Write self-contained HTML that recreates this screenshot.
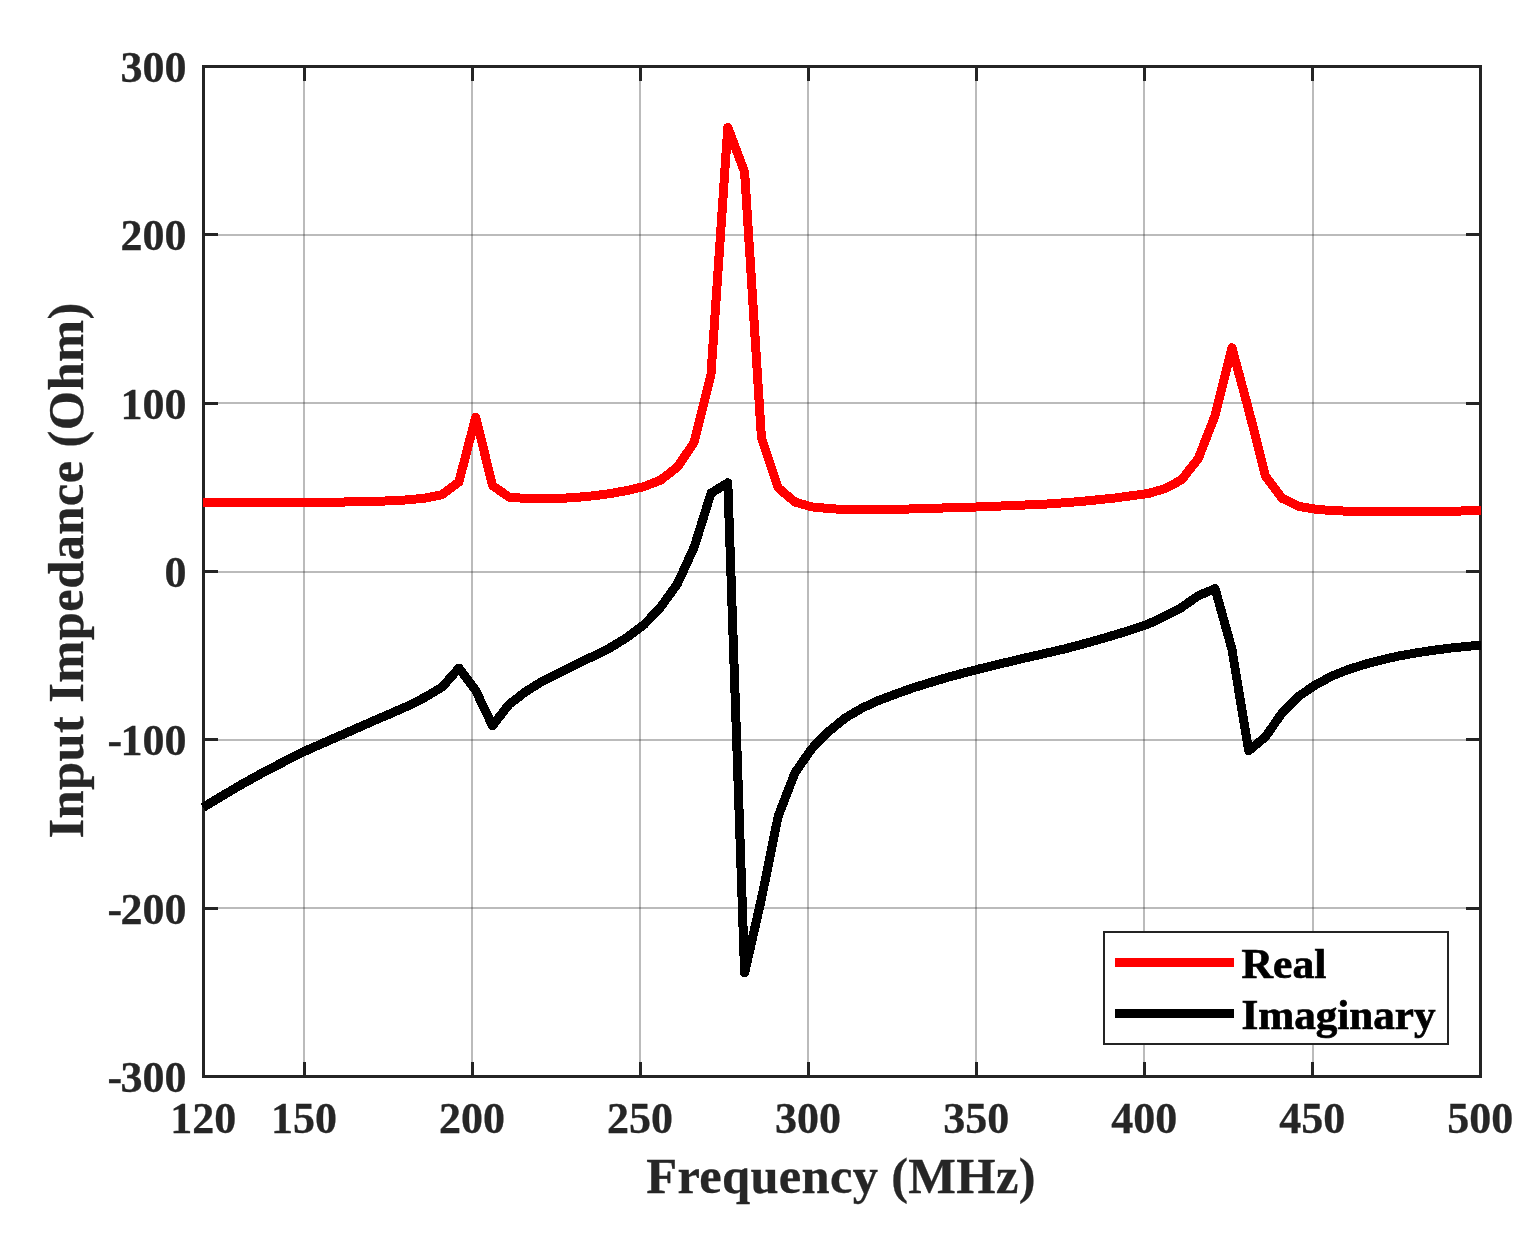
<!DOCTYPE html>
<html lang="en"><head><meta charset="utf-8"><title>Input Impedance vs Frequency</title>
<style>html,body{margin:0;padding:0;background:#fff}body{width:1535px;height:1252px;overflow:hidden}svg{display:block}text{font-family:"Liberation Serif","DejaVu Serif",serif;font-weight:bold}</style></head><body>
<svg width="1535" height="1252" viewBox="0 0 1535 1252" role="img" aria-label="Input impedance versus frequency">
<rect x="0" y="0" width="1535" height="1252" fill="#ffffff"/>
<g fill="#262626" fill-opacity="0.315" shape-rendering="crispEdges">
<rect x="303" y="68" width="2" height="1007"/>
<rect x="471" y="68" width="2" height="1007"/>
<rect x="639" y="68" width="2" height="1007"/>
<rect x="807" y="68" width="2" height="1007"/>
<rect x="975" y="68" width="2" height="1007"/>
<rect x="1143" y="68" width="2" height="1007"/>
<rect x="1312" y="68" width="2" height="1007"/>
<rect x="205" y="907" width="1274" height="2"/>
<rect x="205" y="739" width="1274" height="2"/>
<rect x="205" y="571" width="1274" height="2"/>
<rect x="205" y="402" width="1274" height="2"/>
<rect x="205" y="234" width="1274" height="2"/>
</g>
<g fill="#242424" shape-rendering="crispEdges">
<rect x="202" y="65" width="1280" height="3"/>
<rect x="202" y="1075" width="1280" height="3"/>
<rect x="202" y="65" width="3" height="1013"/>
<rect x="1479" y="65" width="3" height="1013"/>
<rect x="303" y="65" width="3" height="16"/>
<rect x="303" y="1062" width="3" height="16"/>
<rect x="471" y="65" width="3" height="16"/>
<rect x="471" y="1062" width="3" height="16"/>
<rect x="639" y="65" width="3" height="16"/>
<rect x="639" y="1062" width="3" height="16"/>
<rect x="807" y="65" width="3" height="16"/>
<rect x="807" y="1062" width="3" height="16"/>
<rect x="975" y="65" width="3" height="16"/>
<rect x="975" y="1062" width="3" height="16"/>
<rect x="1143" y="65" width="3" height="16"/>
<rect x="1143" y="1062" width="3" height="16"/>
<rect x="1311" y="65" width="3" height="16"/>
<rect x="1311" y="1062" width="3" height="16"/>
<rect x="202" y="907" width="16" height="3"/>
<rect x="1466" y="907" width="16" height="3"/>
<rect x="202" y="738" width="16" height="3"/>
<rect x="1466" y="738" width="16" height="3"/>
<rect x="202" y="570" width="16" height="3"/>
<rect x="1466" y="570" width="16" height="3"/>
<rect x="202" y="402" width="16" height="3"/>
<rect x="1466" y="402" width="16" height="3"/>
<rect x="202" y="233" width="16" height="3"/>
<rect x="1466" y="233" width="16" height="3"/>
</g>
<g shape-rendering="crispEdges">
<polyline points="203.0,502.5 206.9,502.5 223.7,502.5 240.5,502.5 257.3,502.5 274.1,502.5 290.9,502.5 307.7,502.5 324.5,502.5 341.3,502.1 358.1,501.6 374.9,501.3 391.7,500.8 408.5,499.8 425.3,498.1 442.1,494.6 458.9,481.9 475.7,417.1 492.5,485.5 509.3,497.3 526.1,498.4 542.9,498.6 559.7,498.4 576.5,497.4 593.3,495.8 610.1,493.6 626.9,490.5 643.8,486.7 660.6,480.1 677.4,467.1 694.2,442.2 711.0,374.2 727.8,127.4 744.6,171.9 761.4,437.5 778.2,487.8 795.0,502.1 811.8,506.9 828.6,508.5 845.4,509.6 862.2,509.9 879.0,509.9 895.8,509.4 912.6,508.9 929.4,508.4 946.2,507.9 963.0,507.4 979.8,506.9 996.6,506.2 1013.4,505.5 1030.2,504.8 1047.0,504.0 1063.8,502.8 1080.6,501.5 1097.4,499.8 1114.2,498.1 1131.1,495.8 1147.9,493.6 1164.7,488.7 1181.5,479.9 1198.3,458.5 1215.1,415.5 1231.9,347.6 1248.7,409.9 1265.5,476.2 1282.3,498.4 1299.1,506.5 1315.9,509.2 1332.7,510.7 1349.5,511.2 1366.3,511.4 1383.1,511.4 1399.9,511.4 1416.7,511.4 1433.5,511.4 1450.3,511.2 1467.1,510.9 1481.0,510.6" fill="none" stroke="#ff0000" stroke-width="9" stroke-linejoin="round" stroke-linecap="butt"/>
<polyline points="203.0,807.5 206.9,805.1 223.7,795.0 240.5,785.1 257.3,775.7 274.1,766.8 290.9,758.2 307.7,749.9 324.5,742.5 341.3,735.1 358.1,727.7 374.9,720.3 391.7,713.1 408.5,705.7 425.3,697.1 442.1,687.1 458.9,668.1 475.7,690.5 492.5,725.7 509.3,704.1 526.1,691.4 542.9,680.9 559.7,672.5 576.5,664.1 593.3,656.2 610.1,647.8 626.9,637.5 643.8,624.9 660.6,607.2 677.4,583.8 694.2,547.1 711.0,493.2 727.8,482.8 744.6,972.8 761.4,898.9 778.2,816.1 795.0,772.7 811.8,748.6 828.6,731.6 845.4,717.8 862.2,708.0 879.0,700.3 895.8,694.0 912.6,688.0 929.4,682.8 946.2,677.7 963.0,673.2 979.8,668.8 996.6,664.8 1013.4,660.7 1030.2,656.8 1047.0,653.0 1063.8,649.1 1080.6,644.7 1097.4,640.0 1114.2,635.1 1131.1,629.9 1147.9,624.2 1164.7,616.3 1181.5,607.5 1198.3,595.7 1215.1,588.7 1231.9,649.1 1248.7,750.8 1265.5,736.8 1282.3,712.6 1299.1,695.9 1315.9,684.6 1332.7,675.7 1349.5,669.1 1366.3,663.9 1383.1,659.5 1399.9,655.8 1416.7,652.8 1433.5,650.3 1450.3,648.1 1467.1,646.4 1481.0,645.0" fill="none" stroke="#000000" stroke-width="9" stroke-linejoin="round" stroke-linecap="butt"/>
</g>
<g fill="#262626" stroke="#262626" stroke-width="0.3" font-size="44px">
<text x="186.6" y="1092.1" text-anchor="end">-<tspan dx="-1.5">300</tspan></text>
<text x="186.6" y="923.8" text-anchor="end">-<tspan dx="-1.5">200</tspan></text>
<text x="186.6" y="755.4" text-anchor="end">-<tspan dx="-1.5">100</tspan></text>
<text x="186.6" y="587.1" text-anchor="end">0</text>
<text x="186.6" y="418.8" text-anchor="end">100</text>
<text x="186.6" y="250.4" text-anchor="end">200</text>
<text x="186.6" y="82.1" text-anchor="end">300</text>
<text x="203.2" y="1133.3" text-anchor="middle">120</text>
<text x="304.0" y="1133.3" text-anchor="middle">150</text>
<text x="472.1" y="1133.3" text-anchor="middle">200</text>
<text x="640.1" y="1133.3" text-anchor="middle">250</text>
<text x="808.1" y="1133.3" text-anchor="middle">300</text>
<text x="976.2" y="1133.3" text-anchor="middle">350</text>
<text x="1144.2" y="1133.3" text-anchor="middle">400</text>
<text x="1312.2" y="1133.3" text-anchor="middle">450</text>
<text x="1480.3" y="1133.3" text-anchor="middle">500</text>
</g>
<g fill="#262626" stroke="#262626" stroke-width="0.3" font-size="50.5px">
<text x="646.3" y="1193.2" letter-spacing="0.32px">Frequency (MHz)</text>
<text transform="translate(83.2,838.6) rotate(-90)" letter-spacing="0.42px">Input Impedance (Ohm)</text>
</g>
<g shape-rendering="crispEdges">
<rect x="1104" y="932" width="344" height="112" fill="#ffffff" stroke="#242424" stroke-width="2"/>
<rect x="1115" y="958" width="119" height="9" fill="#ff0000"/>
<rect x="1115" y="1009" width="119" height="9" fill="#000000"/>
</g>
<g fill="#000000" stroke="#000000" stroke-width="0.7" font-size="41.5px">
<text transform="translate(1241.6,978) scale(1.05,1)">Real</text>
<text transform="translate(1241.4,1028.8) scale(1.04,1)">Imaginary</text>
</g>
</svg></body></html>
